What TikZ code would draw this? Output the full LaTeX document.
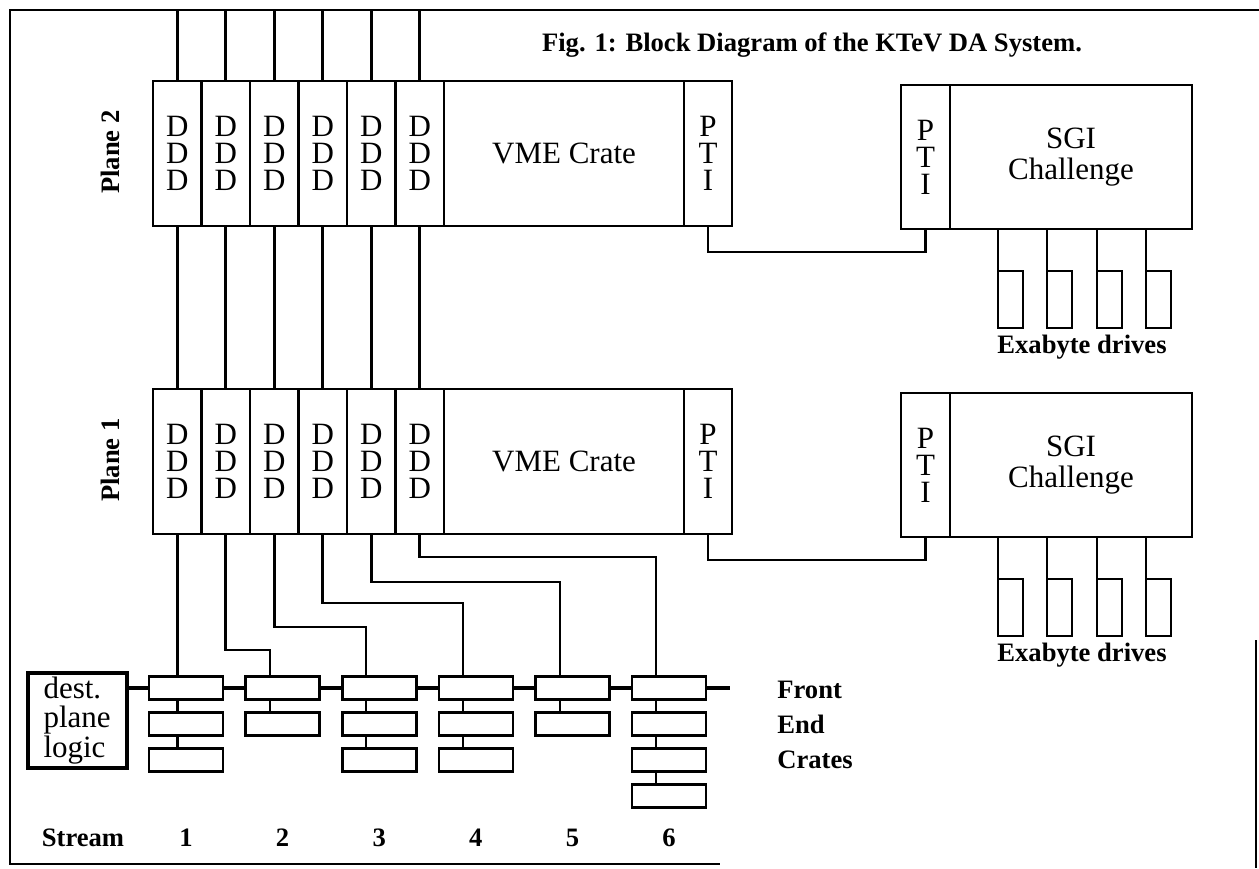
\documentclass[tikz,border=0pt]{standalone}
\usepackage{fontspec}
\setmainfont{Liberation Serif}
\usetikzlibrary{positioning}

\newcommand{\boxfont}{\fontsize{15.5}{13.5}\selectfont}
\newcommand{\sgifont}{\fontsize{15.5}{15.5}\selectfont}
\newcommand{\destfont}{\fontsize{15.5}{14.75}\selectfont}
\newcommand{\lblfont}{\fontsize{13.3}{17.5}\selectfont\bfseries}

\tikzset{
  unit/.style={draw,line width=1.3pt,inner sep=0pt,outer sep=0pt,align=center,font=\boxfont},
  dddbox/.style={unit,minimum width=24.25pt,minimum height=72.5pt},
  vmebox/.style={unit,minimum width=120pt,minimum height=72.5pt},
  ptibox/.style={unit,minimum width=24pt,minimum height=72.5pt},
  sptibox/.style={unit,minimum width=24.5pt,minimum height=72pt},
  sgibox/.style={unit,minimum width=121pt,minimum height=72pt,font=\sgifont},
  drive/.style={unit,minimum width=12.5pt,minimum height=28.5pt},
  crate/.style={unit,minimum width=37pt,minimum height=11.5pt},
  wire/.style={line width=1.4pt},
  bus/.style={line width=2pt},
  frame/.style={line width=1.1pt},
  lbl/.style={inner sep=0pt,font=\lblfont}
}

\begin{document}
\begin{tikzpicture}[x=0.5pt,y=-0.5pt]
  \useasboundingbox (0,0) rectangle (1259,868);

  %% outer frame
  \draw[frame] (1259,10) -- (10,10) -- (10,864) -- (720,864);
  \draw[frame] (1256,640) -- (1256,868);
  \coordinate (topedge) at (0,10);

  \node[lbl] (title) at (812,45) {Fig. 1: Block Diagram of the KTeV DA System.};

  %% the two planes: DDD modules, VME crate, PTI link, SGI and tapes
  \foreach \p/\dy in {2/0,1/308} {
    \node[lbl,rotate=90] (plane\p) at (110,152+\dy) {Plane \p};
    \foreach \k in {1,...,6}
      \node[dddbox] (d\p-\k) at ({177.25+48.5*(\k-1)},153.5+\dy) {D\\D\\D};
    \node[vmebox] (vme\p) at (564,153.5+\dy) {VME Crate};
    \node[ptibox] (pti\p) at (708,153.5+\dy) {P\\T\\I};
    \node[sptibox] (spti\p) at (925.5,157+\dy) {P\\T\\I};
    \node[sgibox] (sgi\p) at (1071,157+\dy) {SGI\\Challenge};
    \draw[wire] (pti\p.south) -- ++(0,26) -| (spti\p.south);
    \foreach \k/\xx in {1/998,2/1047,3/1097,4/1146} {
      \node[drive,anchor=north west] (tape\p-\k) at (\xx,271+\dy) {};
      \draw[wire] (tape\p-\k.north west) -- (tape\p-\k.north west |- sgi\p.south);
    }
    \node[lbl] (exa\p) at (1082,347+\dy) {Exabyte drives};
  }

  %% streams through the planes
  \foreach \k in {1,...,6} {
    \draw[wire] (d2-\k.north) -- (d2-\k.north |- topedge);
    \draw[wire] (d2-\k.south) -- (d1-\k.north);
  }

  %% front end crates
  \node[unit,font=\destfont,line width=1.7pt,minimum width=49.5pt,minimum height=47.5pt,
        text width=34pt,align=left] (dpl) at (77.5,720.5) {dest.\\plane\\logic};
  \foreach \s/\n in {1/3,2/2,3/3,4/3,5/2,6/4}
    \foreach \r in {1,...,\n}
      \node[crate] (fe\s-\r) at ({186+96.6*(\s-1)},{688+36*(\r-1)}) {};

  \foreach \s/\tx/\ty in {1/177.25/640,2/270/650,3/366/627,4/463/603,5/560/582,6/656/557} {
    \coordinate (tap\s) at (\tx,\ty);
    \draw[wire] (d1-\s.south) |- (tap\s) -- (tap\s |- fe\s-1.north);
  }
  \foreach \s/\r/\q in {1/1/2,1/2/3,2/1/2,3/1/2,3/2/3,4/1/2,4/2/3,5/1/2,6/1/2,6/2/3,6/3/4}
    \draw[wire] (tap\s |- fe\s-\r.south) -- (tap\s |- fe\s-\q.north);

  %% crate bus
  \coordinate (busend) at (730,688);
  \draw[bus] (dpl.east |- fe1-1) -- (fe1-1.west);
  \foreach \s/\t in {1/2,2/3,3/4,4/5,5/6}
    \draw[bus] (fe\s-1.east) -- (fe\t-1.west);
  \draw[bus] (fe6-1.east) -- (busend);

  \node[lbl,align=left,anchor=west] (fecrates) at (777,725) {Front\\End\\Crates};
  \node[lbl] (stream) at (83,838) {Stream};
  \foreach \s in {1,...,6}
    \node[lbl] (num\s) at (fe\s-1 |- stream) {\s};
\end{tikzpicture}
\end{document}
